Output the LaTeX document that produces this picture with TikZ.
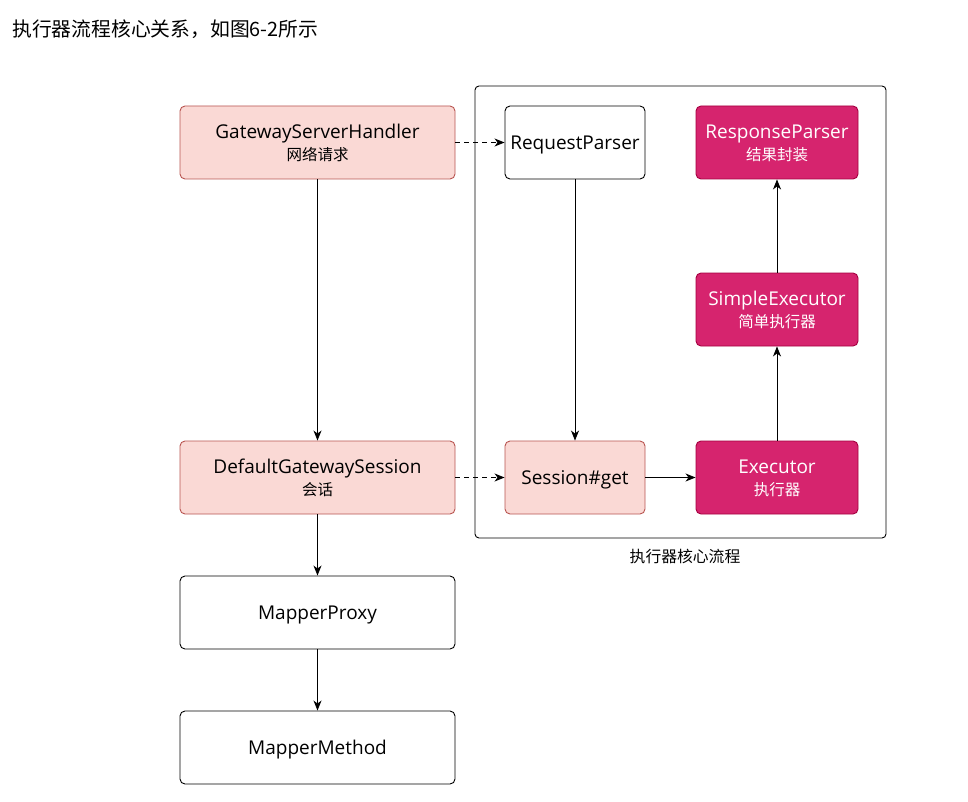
\documentclass[tikz,border=0pt]{standalone}
\usepackage{fontspec}
\setmainfont{Open Sans}
\newfontfamily\cjk{Noto Sans CJK SC}
\usetikzlibrary{arrows.meta}
\definecolor{pinkfill}{HTML}{FAD9D5}
\definecolor{pinkline}{HTML}{B85450}
\definecolor{magfill}{HTML}{D6246E}
\definecolor{magline}{HTML}{A50040}
\newcommand{\zh}[1]{{\cjk\fontsize{15.5}{22}\selectfont #1}}
\begin{document}
\begin{tikzpicture}[x=1pt,y=-1pt,
  box/.style={draw, rounded corners=5pt, line width=0.9pt, minimum height=73pt, align=center, inner sep=0pt, text depth=0pt, font=\fontsize{19}{22}\selectfont},
  widebox/.style={box, minimum width=275pt},
  narrowbox/.style={box, minimum width=140pt},
  exbox/.style={box, minimum width=162pt, fill=magfill, draw=magline, text=white},
  light/.style={fill=pinkfill, draw=pinkline},
  plain/.style={fill=white, draw=black},
  arr/.style={-{Stealth[length=10pt,width=8pt,inset=3pt]}, line width=0.9pt},
  dasharr/.style={arr, dash pattern=on 5pt off 4pt}
]
\path[use as bounding box] (0,0) rectangle (968,802);
\node[anchor=base west, inner sep=0pt, font=\cjk\fontsize{19.8}{22}\selectfont] (title) at (12,37) {执行器流程核心关系，如图6-2所示};

\node[draw, rounded corners=4pt, line width=0.9pt, minimum width=411pt, minimum height=452pt, inner sep=0pt] (frame) at (680.5,312) {};
\node[font=\cjk\fontsize{15.8}{17}\selectfont] (clabel) at (685,556) {执行器核心流程};

\node[widebox, light] (gsh) at (317.5,142.5) {GatewayServerHandler\\\zh{网络请求}};
\node[widebox, light] (dgs) at (317.5,477.5) {DefaultGatewaySession\\\zh{会话}};
\node[widebox, plain] (mp) at (317.5,612.5) {MapperProxy};
\node[widebox, plain] (mm) at (317.5,747.5) {MapperMethod};

\node[narrowbox, plain] (rq) at (575,142.5) {RequestParser};
\node[narrowbox, light] (sg) at (575,477.5) {Session\#get};

\node[exbox] (rp) at (777,142.5) {ResponseParser\\\zh{结果封装}};
\node[exbox] (se) at (777,309.5) {SimpleExecutor\\\zh{简单执行器}};
\node[exbox] (ex) at (777,477.5) {Executor\\\zh{执行器}};

\draw[arr] (gsh) -- (dgs);
\draw[arr] (dgs) -- (mp);
\draw[arr] (mp) -- (mm);
\draw[dasharr] (gsh) -- (rq);
\draw[dasharr] (dgs) -- (sg);
\draw[arr] (rq) -- (sg);
\draw[arr] (sg) -- (ex);
\draw[arr] (ex) -- (se);
\draw[arr] (se) -- (rp);
\end{tikzpicture}
\end{document}
